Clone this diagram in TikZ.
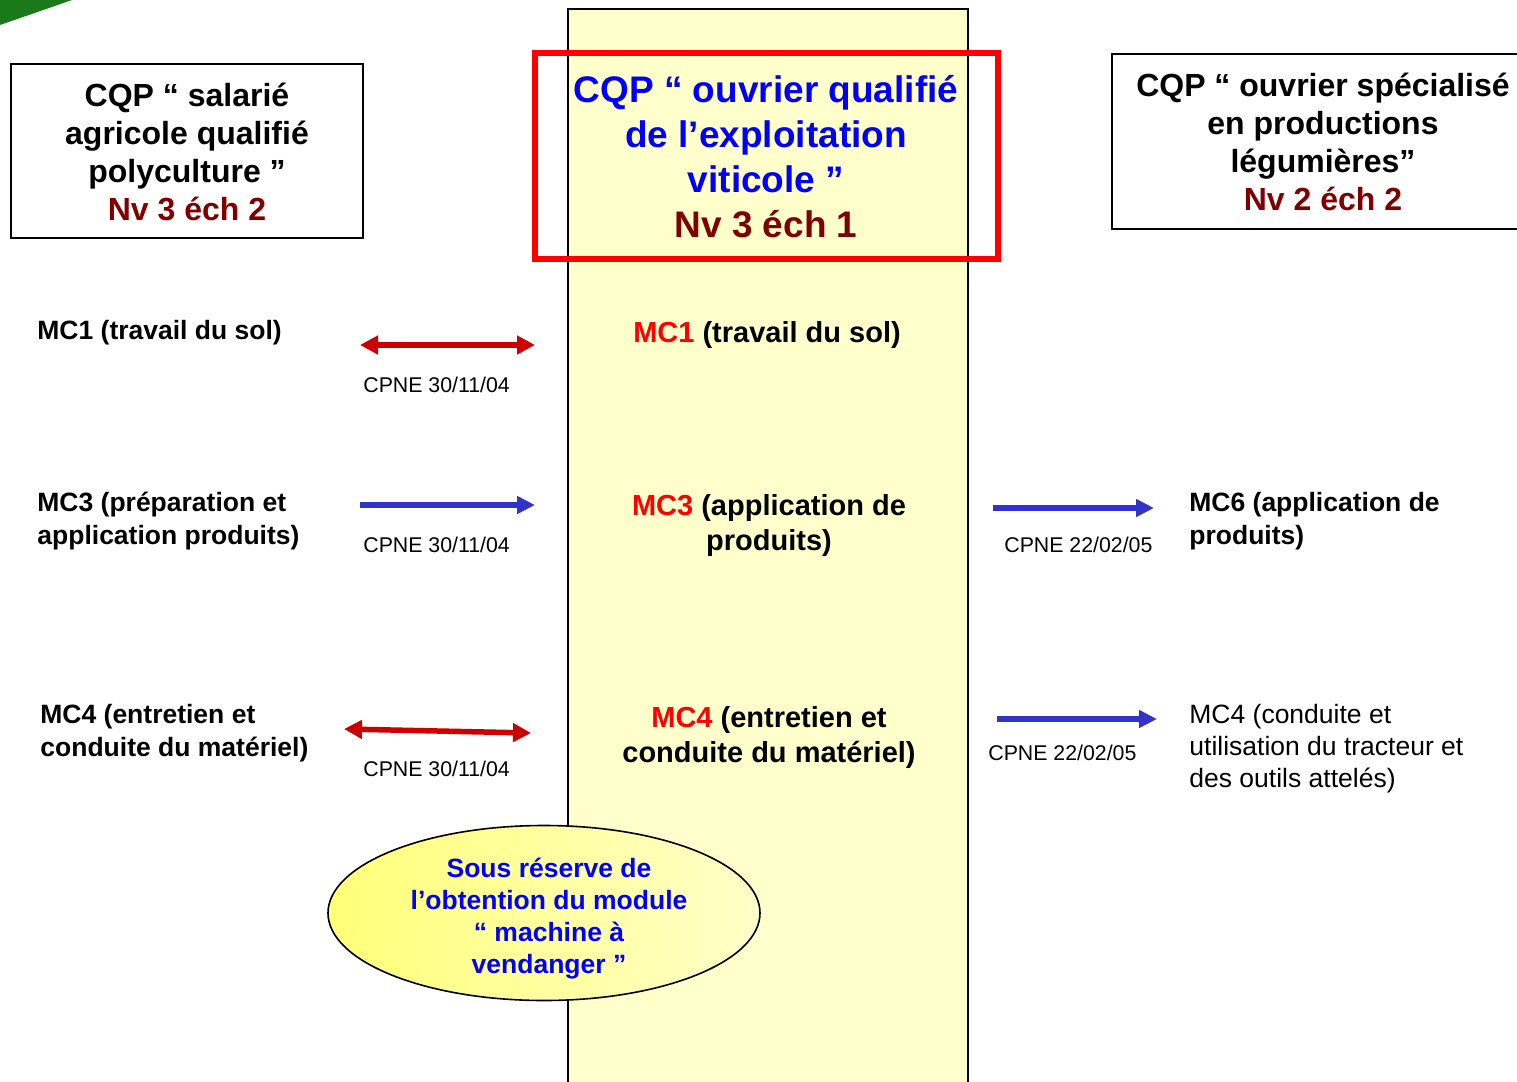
\documentclass[tikz,border=0pt]{standalone}
\usepackage{fontspec}
\setmainfont{Liberation Sans}
\usetikzlibrary{arrows.meta,shapes.geometric}
\definecolor{tblue}{RGB}{0,0,255}
\definecolor{dred}{RGB}{128,0,0}
\definecolor{mcred}{RGB}{255,0,0}
\definecolor{arred}{RGB}{204,0,0}
\definecolor{arblue}{RGB}{51,51,204}
\definecolor{colfill}{RGB}{255,255,204}
\definecolor{lgreen}{RGB}{26,122,26}
\begin{document}
\begin{tikzpicture}[x=0.5pt,y=-0.5pt,
  boxtitle/.style={font=\fontsize{16}{19}\selectfont\bfseries, align=center, inner sep=0},
  maintitle/.style={font=\fontsize{18.5}{22.5}\selectfont\bfseries, align=center, inner sep=0, text=tblue},
  sidemc/.style={font=\fontsize{13.25}{16.25}\selectfont\bfseries, align=left, inner sep=0, anchor=west},
  sidemcreg/.style={font=\fontsize{13.25}{16}\selectfont, align=left, inner sep=0, anchor=west},
  centermc/.style={font=\fontsize{14.5}{17.5}\selectfont\bfseries, align=center, inner sep=0},
  cpne/.style={font=\fontsize{10.65}{12}\selectfont, inner sep=0, anchor=west},
  redarrow/.style={draw=arred, line width=2.75pt, {Triangle[length=9pt,width=9pt]}-{Triangle[length=9pt,width=9pt]}},
  bluearrow/.style={draw=arblue, line width=2.75pt, -{Triangle[length=9pt,width=8.5pt]}},
  note/.style={font=\fontsize{13.25}{16}\selectfont\bfseries, align=center, inner sep=0, text=tblue}
]
\useasboundingbox (0,0) rectangle (1517,1082);
\fill[white] (0,0) rectangle (1517,1082);
% green corner
\fill[lgreen] (0,0) -- (72,0) -- (0,25) -- cycle;
% central column
\draw[fill=colfill, line width=1.2pt] (568,9) rectangle (968,1095);
% red frame
\draw[mcred, line width=2.6pt] (535,53) rectangle (998,259);
\node[maintitle] (ctitle) at (766,157) {CQP “ ouvrier qualifié\\de l’exploitation\\viticole ”\\\textcolor{dred}{Nv 3 éch 1}};
% left box
\node[draw, line width=0.8pt, minimum width=176pt, minimum height=87pt, inner sep=0] (lbox) at (187,151) {};
\node[boxtitle] (ltitle) at (187,152) {CQP “ salarié\\agricole qualifié\\polyculture ”\\\textcolor{dred}{Nv 3 éch 2}};
% right box
\draw[line width=0.8pt] (1540,54) -- (1112,54) -- (1112,229) -- (1540,229);
\node[boxtitle] (rtitle) at (1323,142) {CQP “ ouvrier spécialisé\\en productions\\légumières”\\\textcolor{dred}{Nv 2 éch 2}};
% left items
\node[sidemc] (l1) at (37,333) {MC1 (travail du sol)};
\node[sidemc] (l3) at (37,521) {MC3 (préparation et\\application produits)};
\node[sidemc] (l4) at (40,733) {MC4 (entretien et\\conduite du matériel)};
% center items
\node[centermc] (c1) at (767,335) {\textcolor{mcred}{MC1} (travail du sol)};
\node[centermc] (c3) at (769,525) {\textcolor{mcred}{MC3} (application de\\produits)};
\node[centermc] (c4) at (769,737) {\textcolor{mcred}{MC4} (entretien et\\conduite du matériel)};
% right items
\node[sidemc] (r6) at (1189,521) {MC6 (application de\\produits)};
\node[sidemcreg] (r4) at (1189,749) {MC4 (conduite et\\utilisation du tracteur et\\des outils attelés)};
% arrows
\coordinate (a1s) at (360,345); \coordinate (a1e) at (535,345);
\coordinate (a3s) at (360,505); \coordinate (a3e) at (535,505);
\coordinate (a4s) at (344,729); \coordinate (a4e) at (531,733);
\coordinate (b3s) at (993,508); \coordinate (b3e) at (1154,508);
\coordinate (b4s) at (997,719); \coordinate (b4e) at (1157,719);
\draw[redarrow] (a1s) -- (a1e);
\draw[bluearrow] (a3s) -- (a3e);
\draw[redarrow] (a4s) -- (a4e);
\draw[bluearrow] (b3s) -- (b3e);
\draw[bluearrow] (b4s) -- (b4e);
% CPNE labels
\node[cpne] (p1) at (363,385) {CPNE 30/11/04};
\node[cpne] (p3) at (363,545) {CPNE 30/11/04};
\node[cpne] (p4) at (363,769) {CPNE 30/11/04};
\node[cpne] (q3) at (1004,545) {CPNE 22/02/05};
\node[cpne] (q4) at (988,753) {CPNE 22/02/05};
% ellipse
\node[ellipse, draw, line width=0.8pt, minimum width=216pt, minimum height=87.5pt, inner sep=0,
  left color={rgb,255:red,255;green,255;blue,120}, right color={rgb,255:red,255;green,255;blue,200}] (ell) at (544,913) {};
\node[note] (etext) at (549,919) {Sous réserve de\\l’obtention du module\\“ machine à\\vendanger ”};
\end{tikzpicture}
\end{document}
